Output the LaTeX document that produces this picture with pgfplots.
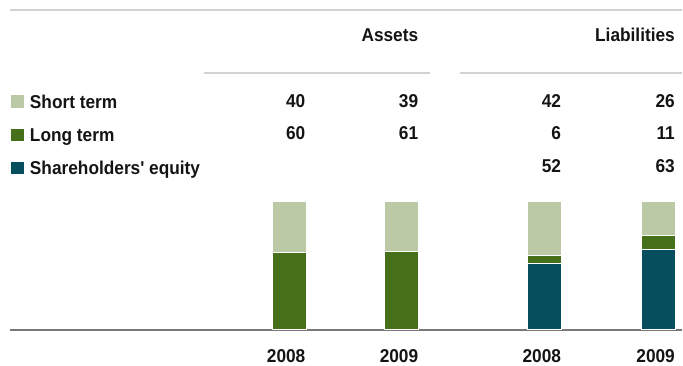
\documentclass[border=0pt]{standalone}
\usepackage{pgfplots}
\usepackage{pgfplotstable}
\pgfplotsset{compat=1.18}
\usepackage{fontspec}
\newfontfamily\lab{Liberation Sans Bold}[FakeStretch=0.93]
\newcommand\tf{\lab\fontsize{18.6bp}{22bp}\selectfont}

\definecolor{shortc}{RGB}{188,201,166}
\definecolor{longc}{RGB}{70,112,26}
\definecolor{equityc}{RGB}{6,78,94}
\definecolor{txt}{RGB}{20,20,20}
\definecolor{rule}{RGB}{210,210,210}
\definecolor{base}{RGB}{120,120,120}

% balance sheet structure, in per cent of the total
\pgfplotstableread{
x     short long equity
289.5 40    60   0
402.5 39    61   0
545.5 42    6    52
659.5 26    11   63
}\balance

% position in picture units (x from left, y from top)
\newcommand\at[2]{(axis description cs:{#1/683},{1-#2/366})}
\tikzset{val/.style={font=\tf, text=txt, anchor=base east, inner sep=0pt}}

\begin{document}
\begin{tikzpicture}
\begin{axis}[
  scale only axis, width=683bp, height=366bp,
  xmin=0, xmax=683, ymin=-28.125, ymax=257.8125,
  clip=false,
  axis line style={draw=none},
  major tick length=0pt,
  ytick=\empty,
  xtick={289.5,402.5,545.5,659.5},
  xticklabels={2008,2009,2008,2009},
  xticklabel shift=-3bp,
  xticklabel style={font=\tf, text=txt, anchor=base east, inner sep=0pt,
    text depth=0pt, xshift=16.5bp},
  ybar stacked, bar width=34,
  every axis plot/.append style={draw=white, line width=1bp},
  legend cell align=left,
  reverse legend,
  legend image code/.code={\fill[#1] (0bp,-6.65bp) rectangle (14bp,6.65bp);},
  legend style={at={(axis description cs:{10/683},{1-94.4/366})}, anchor=north west,
    draw=none, fill=none, inner sep=0pt, outer sep=0pt,
    row sep=19bp, column sep=5bp,
    nodes={font=\tf, text=txt, inner sep=0pt, text height=13.3bp, text depth=0bp}},
]
\addplot[fill=equityc] table[x=x, y=equity] {\balance};
\addplot[fill=longc] table[x=x, y=long] {\balance};
\addplot[fill=shortc] table[x=x, y=short] {\balance};
\legend{Shareholders' equity, Long term, Short term}

% rules
\draw[rule, line width=2bp] \at{10}{9.5} -- \at{683}{9.5};
\draw[rule, line width=2bp] \at{204}{73.3} -- \at{431}{73.3};
\draw[rule, line width=2bp] \at{461}{73.3} -- \at{683}{73.3};
\draw[base, line width=2bp] \at{10}{330.7} -- \at{683}{330.7};

% column heads
\node[val] at \at{419}{41.7} {Assets};
\node[val] at \at{676}{41.7} {Liabilities};

% value table
\node[val] at \at{306}{107.7} {40};
\node[val] at \at{306}{140} {60};
\node[val] at \at{419}{107.7} {39};
\node[val] at \at{419}{140} {61};
\node[val] at \at{562}{107.7} {42};
\node[val] at \at{562}{140} {6};
\node[val] at \at{562}{172.3} {52};
\node[val] at \at{676}{107.7} {26};
\node[val] at \at{676}{140} {11};
\node[val] at \at{676}{172.3} {63};
\end{axis}
\end{tikzpicture}
\end{document}
